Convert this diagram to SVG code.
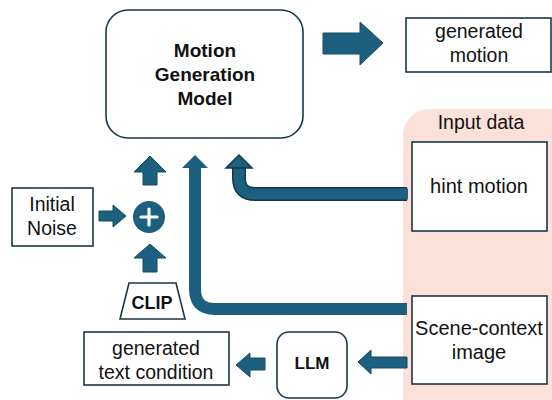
<svg xmlns="http://www.w3.org/2000/svg" width="552" height="400" viewBox="0 0 552 400">
  <defs>
    <style>
      .box { fill: #ffffff; stroke: #1b3646; stroke-width: 1.6; }
      .txt { font-family: "Liberation Sans", Arial, sans-serif; font-size: 19.5px; fill: #111111; text-anchor: middle; }
      .bold { font-weight: bold; }
      .arrow { fill: #1d5f7e; stroke: #174a62; stroke-width: 1; stroke-linejoin: miter; }
      .pipe { fill: none; stroke: #1d5f7e; stroke-width: 12; }
    </style>
  </defs>

  <rect width="552" height="400" fill="#ffffff"/>

  <!-- input data panel -->
  <g id="input-data">
    <rect x="403" y="109" width="175" height="320" rx="26" fill="#fbe1d7"/>
    <text class="txt" x="481" y="129">Input data</text>
  </g>

  <!-- connectors -->
  <g id="connectors">
    <!-- hint motion to model (outlined pipe) -->
    <path d="M407,194 H255 Q239,194 239,178 V166" fill="none" stroke="#12384a" stroke-width="14"/>
    <path d="M408,194 H255 Q239,194 239,178 V165" fill="none" stroke="#1d5f7e" stroke-width="11"/>
    <polygon points="239,155 252,168 226,168" fill="#1d5f7e" stroke="#12384a" stroke-width="1.5" stroke-linejoin="miter"/>

    <!-- scene-context to model -->
    <path class="pipe" d="M407,309 H215 Q195,309 195,289 V166"/>
    <polygon points="195,155 208,168 182,168" fill="#1d5f7e"/>

    <!-- model to generated motion -->
    <polygon class="arrow" points="323,33 360,33 360,22 383,43 360,65 360,54 323,54"/>

    <!-- plus to model -->
    <polygon class="arrow" points="150,156 166,172 157,172 157,185 143,185 143,172 134,172"/>
    <!-- CLIP to plus -->
    <polygon class="arrow" points="150,244 166,258 157,258 157,272 143,272 143,258 134,258"/>
    <!-- noise to plus -->
    <polygon class="arrow" points="99,211 113,211 113,205 126,216 113,227 113,221 99,221"/>

    <!-- scene-context to LLM -->
    <polygon class="arrow" points="407,357 371,357 371,350 358,362 371,374 371,368 407,368"/>
    <!-- LLM to generated text -->
    <polygon class="arrow" points="265,358 250,358 250,353 236,365 250,377 250,370 265,370"/>
  </g>

  <!-- nodes -->
  <g id="motion-model">
    <rect class="box" x="106" y="10" width="197" height="128" rx="22"/>
    <text class="txt bold" x="205" y="57" style="font-size:19px">Motion</text>
    <text class="txt bold" x="205" y="81" style="font-size:19px">Generation</text>
    <text class="txt bold" x="205" y="105" style="font-size:19px">Model</text>
  </g>

  <g id="generated-motion">
    <rect class="box" x="406" y="18" width="145" height="54"/>
    <text class="txt" x="479" y="38">generated</text>
    <text class="txt" x="479" y="62">motion</text>
  </g>

  <g id="hint-motion">
    <rect class="box" x="412" y="142" width="135" height="89"/>
    <text class="txt" x="479" y="193" style="font-size:20px">hint motion</text>
  </g>

  <g id="scene-context">
    <rect class="box" x="412" y="296" width="135" height="88"/>
    <text class="txt" x="479" y="335" style="font-size:20px">Scene-context</text>
    <text class="txt" x="479" y="359" style="font-size:20px">image</text>
  </g>

  <g id="llm">
    <rect class="box" x="277" y="332" width="70" height="66" rx="12"/>
    <text class="txt bold" x="312" y="369" style="font-size:17px">LLM</text>
  </g>

  <g id="generated-text">
    <rect class="box" x="84" y="332" width="145" height="53"/>
    <text class="txt" x="156" y="355">generated</text>
    <text class="txt" x="156" y="379">text condition</text>
  </g>

  <g id="initial-noise">
    <rect class="box" x="12" y="188" width="81" height="58"/>
    <text class="txt" x="52" y="211">Initial</text>
    <text class="txt" x="52" y="235">Noise</text>
  </g>

  <g id="plus">
    <circle cx="149" cy="217" r="16" fill="#1d5f7e"/>
    <path d="M149,209 V225 M141,217 H157" stroke="#ffffff" stroke-width="3.2" stroke-linecap="round"/>
  </g>

  <g id="clip">
    <polygon class="box" points="129,283 176,283 185,319 120,319"/>
    <text class="txt bold" x="152" y="309" style="font-size:18px">CLIP</text>
  </g>
</svg>
